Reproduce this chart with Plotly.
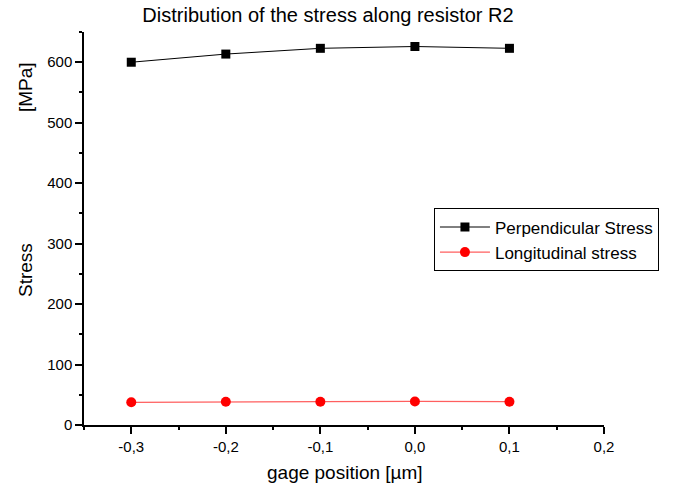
import plotly.graph_objects as go

# gage positions along resistor R2 (µm)
positions = [-0.3, -0.2, -0.1, 0.0, 0.1]
# stress components (MPa)
perpendicular_stress = [600, 613.5, 623, 626, 623]
longitudinal_stress = [37.5, 38.5, 38.5, 39, 38.5]

# axis ticks (comma decimal separator, plain hyphen minus)
x_ticks = [-0.3, -0.2, -0.1, 0.0, 0.1, 0.2]
x_tick_labels = ["-0,3", "-0,2", "-0,1", "0,0", "0,1", "0,2"]
y_ticks = [0, 100, 200, 300, 400, 500, 600]

fig = go.Figure()
fig.add_trace(go.Scatter(
    x=positions, y=perpendicular_stress, name="Perpendicular Stress",
    mode="lines+markers",
    line=dict(color="black", width=1),
    marker=dict(symbol="square", size=9, color="black"),
))
fig.add_trace(go.Scatter(
    x=positions, y=longitudinal_stress, name="Longitudinal stress",
    mode="lines+markers",
    line=dict(color="#ff5f5f", width=1.2),
    marker=dict(symbol="circle", size=10, color="#ff0000"),
))

font = "Arial, Liberation Sans, sans-serif"
fig.update_layout(
    width=688, height=488,
    margin=dict(l=84, r=84, t=32, b=63),
    paper_bgcolor="white", plot_bgcolor="white",
    font=dict(family=font, size=15, color="black"),
    title=dict(text="Distribution of the stress along resistor R2",
               font=dict(size=20, color="black"),
               x=328 / 688, xref="container", xanchor="center",
               y=1 - 15 / 488, yanchor="middle", yref="container"),
    showlegend=True,
    legend=dict(x=0.673, y=0.551, xanchor="left", yanchor="top",
                bordercolor="black", borderwidth=1, bgcolor="white",
                font=dict(size=17), tracegroupgap=0, itemwidth=50),
)
fig.update_xaxes(
    range=[-0.35, 0.2], tickvals=x_ticks, ticktext=x_tick_labels,
    showgrid=False, zeroline=False,
    showline=True, linecolor="black", linewidth=1.5,
    ticks="outside", ticklen=7, tickwidth=1.5, tickcolor="black",
    minor=dict(ticks="outside", dtick=0.05, tick0=0, ticklen=3,
               tickwidth=1.5, tickcolor="black", showgrid=False),
)
fig.update_yaxes(
    range=[0, 650], tickvals=y_ticks,
    showgrid=False, zeroline=False,
    showline=True, linecolor="black", linewidth=1.5,
    ticks="outside", ticklen=7, tickwidth=1.5, tickcolor="black",
    minor=dict(ticks="outside", dtick=50, tick0=0, ticklen=3,
               tickwidth=1.5, tickcolor="black", showgrid=False),
)
# axis labels: x title below the ticks, y label drawn in two parts
fig.add_annotation(text="gage position [µm]", xref="paper", yref="paper",
                   x=(345 - 84) / 520, y=(425 - 472) / 393, showarrow=False,
                   font=dict(size=19), xanchor="center", yanchor="middle")
fig.add_annotation(text="Stress", textangle=-90, xref="paper", yref="paper",
                   x=(25 - 84) / 520, y=(425 - 270) / 393, showarrow=False,
                   font=dict(size=19), xanchor="center", yanchor="middle")
fig.add_annotation(text="[MPa]", textangle=-90, xref="paper", yref="paper",
                   x=(25 - 84) / 520, y=(425 - 87) / 393, showarrow=False,
                   font=dict(size=19), xanchor="center", yanchor="middle")

fig.write_html("out.html")
